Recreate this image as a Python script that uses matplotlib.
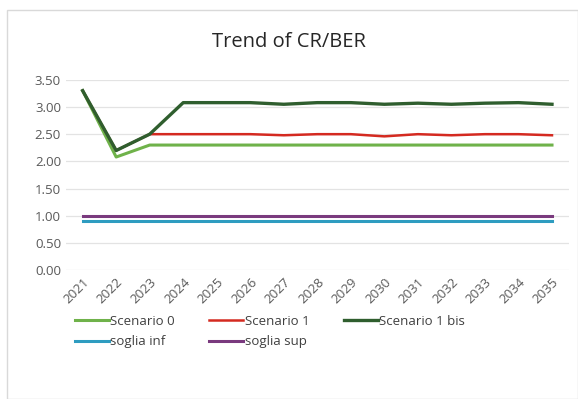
import matplotlib
matplotlib.use("Agg")
import matplotlib.pyplot as plt
from matplotlib.patches import Rectangle

years = [str(y) for y in range(2021, 2036)]
scenario0 = [3.30, 2.08, 2.30, 2.30, 2.30, 2.30, 2.30, 2.30, 2.30, 2.30, 2.30, 2.30, 2.30, 2.30, 2.30]
scenario1 = [3.30, 2.20, 2.50, 2.50, 2.50, 2.50, 2.48, 2.50, 2.50, 2.46, 2.50, 2.48, 2.50, 2.50, 2.48]
scenario1bis = [3.30, 2.20, 2.50, 3.08, 3.08, 3.08, 3.05, 3.08, 3.08, 3.05, 3.07, 3.05, 3.07, 3.08, 3.05]
soglia_inf = [0.90] * 15
soglia_sup = [1.00] * 15

plt.rcParams['font.family'] = ['Open Sans', 'DejaVu Sans']

fig = plt.figure(figsize=(5.78, 3.99), dpi=100)
ax = fig.add_axes([0.114, 0.323, 0.870, 0.477])

l0, = ax.plot(years, scenario0, color='#6FB24A', lw=2.2, label='Scenario 0')
l1, = ax.plot(years, scenario1, color='#D42A20', lw=1.8, label='Scenario 1')
l2, = ax.plot(years, scenario1bis, color='#2F5E2E', lw=2.4, label='Scenario 1 bis')
l3, = ax.plot(years, soglia_inf, color='#2E9CC0', lw=2.2, label='soglia inf')
l4, = ax.plot(years, soglia_sup, color='#7A3A7E', lw=2.2, label='soglia sup')

ax.set_ylim(0, 3.5)
ax.set_xlim(-0.5, 14.5)
ax.set_yticks([0, 0.5, 1, 1.5, 2, 2.5, 3, 3.5])
ax.set_yticklabels(['%.2f' % v for v in ax.get_yticks()])
ax.grid(axis='y', color='#E3E3E3', lw=0.9)
ax.set_axisbelow(True)
for s in ax.spines.values():
    s.set_visible(False)
ax.tick_params(axis='both', length=0, colors='#595959', labelsize=9.5)
ax.tick_params(axis='x', pad=4)
plt.setp(ax.get_xticklabels(), rotation=45, ha='right', rotation_mode='anchor')

fig.text(0.5, 0.895, 'Trend of CR/BER', ha='center', va='center', fontsize=14.5, color='#262626')

# column-major fill -> order so rows read S0, S1, S1bis / inf, sup
handles = [l0, l3, l1, l4, l2]
fig.legend(handles, [h.get_label() for h in handles], loc='upper left',
           bbox_to_anchor=(0.12, 0.225), ncol=3, frameon=False,
           fontsize=9.5, handlelength=2.6, handletextpad=0.1, columnspacing=2.6,
           labelcolor='#404040', borderaxespad=0, labelspacing=0.6)

fig.patches.append(Rectangle((0.012, 0.0), 0.988, 0.975, transform=fig.transFigure,
                             fill=False, edgecolor='#D9D9D9', lw=1))

fig.savefig('out.png', dpi=100)
